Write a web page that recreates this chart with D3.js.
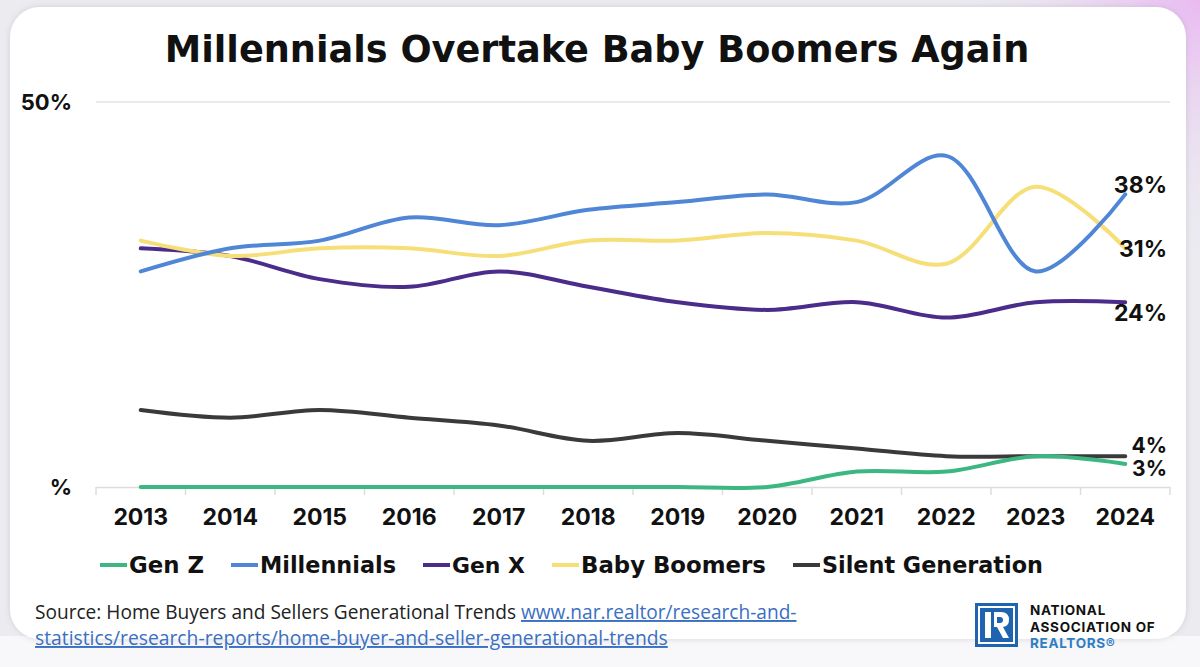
<!DOCTYPE html>
<html>
<head>
<meta charset="utf-8">
<script src="https://cdn.jsdelivr.net/npm/d3@7"></script>
<style>
  html, body { margin: 0; padding: 0; background: #ebebf0; }
  svg { display: block; }
</style>
</head>
<body>
<div id="chart"></div>
<script>
'use strict'

// Data (percent of buyers)
const years = ['2013', '2014', '2015', '2016', '2017', '2018', '2019', '2020', '2021', '2022', '2023', '2024']
const genZ = [0, 0, 0, 0, 0, 0, 0, 0, 2, 2, 4, 3]
const millennials = [28, 31, 32, 35, 34, 36, 37, 38, 37, 43, 28, 38]
const genX = [31, 30, 27, 26, 28, 26, 24, 23, 24, 22, 24, 24]
const boomers = [32, 30, 31, 31, 30, 32, 32, 33, 32, 29, 39, 31]
const silent = [10, 9, 10, 9, 8, 6, 7, 6, 5, 4, 4, 4]
const seriesNames = ['Gen Z', 'Millennials', 'Gen X', 'Baby Boomers', 'Silent Generation']
const yTickLabels = ['%', '50%']

// scale a text's font size so it spans the given width
function fitWidth(sel, target) {
  const w = sel.node().getComputedTextLength()
  const fs = parseFloat(sel.attr('font-size'))
  sel.attr('font-size', (fs * target) / w)
}

function draw() {
  const colors = {
    'Gen Z': '#3cb782',
    'Millennials': '#4f86d6',
    'Gen X': '#4b2c8a',
    'Baby Boomers': '#f6df78',
    'Silent Generation': '#3a3a3c',
  }
  const values = {
    'Gen Z': genZ,
    'Millennials': millennials,
    'Gen X': genX,
    'Baby Boomers': boomers,
    'Silent Generation': silent,
  }
  // draw order (back to front)
  const order = ['Silent Generation', 'Gen Z', 'Gen X', 'Baby Boomers', 'Millennials']

  const dimensions = {
    width: 1200,
    height: 667,
    plot: { left: 96, right: 1170, top: 102, bottom: 487 },
  }

  const svg = d3
    .select('#chart')
    .append('svg')
    .attr('width', dimensions.width)
    .attr('height', dimensions.height)

  const defs = svg.append('defs')
  const glow = defs
    .append('radialGradient')
    .attr('id', 'glow')
    .attr('cx', 1)
    .attr('cy', 0)
    .attr('r', 0.9)
  glow.append('stop').attr('offset', '0%').attr('stop-color', '#e9b9f2')
  glow.append('stop').attr('offset', '100%').attr('stop-color', '#ebebf0').attr('stop-opacity', 0)

  const shadow = defs.append('filter').attr('id', 'shadow').attr('x', -0.05).attr('y', -0.05).attr('width', 1.1).attr('height', 1.1)
  shadow.append('feDropShadow').attr('dx', 0).attr('dy', 0).attr('stdDeviation', 3).attr('flood-color', '#9a9aa8').attr('flood-opacity', 0.35)

  // Background + card
  svg.append('rect').attr('width', 1200).attr('height', 667).attr('fill', '#ebebf0')
  svg.append('rect').attr('x', 900).attr('y', 0).attr('width', 300).attr('height', 300).attr('fill', 'url(#glow)')
  svg.append('rect').attr('x', 0).attr('y', 636).attr('width', 1200).attr('height', 31).attr('fill', '#f8f8fa')
  svg
    .append('rect')
    .attr('x', 10)
    .attr('y', 7)
    .attr('width', 1176)
    .attr('height', 632)
    .attr('rx', 30)
    .attr('fill', '#ffffff')
    .attr('filter', 'url(#shadow)')

  const boldFont = "'DejaVu Sans', Inter, sans-serif"
  const tickFont = "Inter, 'DejaVu Sans', sans-serif"

  // Title
  const title = svg
    .append('text')
    .attr('x', 597)
    .attr('y', 62)
    .attr('text-anchor', 'middle')
    .attr('font-family', boldFont)
    .attr('font-weight', 700)
    .attr('font-size', 34)
    .attr('fill', '#111')
    .text('Millennials Overtake Baby Boomers Again')
  fitWidth(title, 865)

  // Scales
  const xBand = d3
    .scaleBand()
    .domain(years)
    .range([dimensions.plot.left, dimensions.plot.right])
  const xScale = (year) => xBand(year) + xBand.bandwidth() / 2

  const yScale = d3
    .scaleLinear()
    .domain([0, 50])
    .range([dimensions.plot.bottom, dimensions.plot.top])

  // Gridline at 50%
  svg
    .append('line')
    .attr('x1', dimensions.plot.left)
    .attr('x2', dimensions.plot.right)
    .attr('y1', yScale(50))
    .attr('y2', yScale(50))
    .attr('stroke', '#e3e3e3')
    .attr('stroke-width', 1.5)

  // X axis
  const xAxis = d3.axisBottom(xBand).tickSize(0).tickPadding(22)
  const xAxisGroup = svg
    .append('g')
    .attr('transform', `translate(0, ${yScale(0)})`)
    .call(xAxis)
  xAxisGroup.select('.domain').attr('stroke', '#dcdcdc').attr('stroke-width', 1.5)
  xAxisGroup
    .selectAll('.tick text')
    .attr('font-family', tickFont)
    .attr('font-weight', 700)
    .attr('font-size', 23)
    .attr('fill', '#111')
  xAxisGroup
    .selectAll('.boundary')
    .data(years.concat(['end']))
    .join('line')
    .attr('class', 'boundary')
    .attr('x1', (d, i) => (i < years.length ? xBand(d) : dimensions.plot.right))
    .attr('x2', (d, i) => (i < years.length ? xBand(d) : dimensions.plot.right))
    .attr('y1', 0)
    .attr('y2', 8)
    .attr('stroke', '#dcdcdc')
    .attr('stroke-width', 1.5)

  // Y labels
  svg
    .selectAll('.ylabel')
    .data([0, 50])
    .join('text')
    .attr('class', 'ylabel')
    .attr('x', 72)
    .attr('y', (d) => yScale(d) + 8)
    .attr('text-anchor', 'end')
    .attr('font-family', tickFont)
    .attr('font-weight', 700)
    .attr('font-size', 22)
    .attr('fill', '#111')
    .text((d, i) => yTickLabels[i])

  // Lines
  const line = d3
    .line()
    .x((d, i) => xScale(years[i]))
    .y((d) => yScale(d))
    .curve(d3.curveCatmullRom.alpha(0.5))

  svg
    .append('g')
    .selectAll('path')
    .data(order)
    .join('path')
    .attr('d', (name) => line(values[name]))
    .attr('fill', 'none')
    .attr('stroke', (name) => colors[name])
    .attr('stroke-width', 4)
    .attr('stroke-linecap', 'round')

  // End labels (vertical nudges so they don't collide)
  const endNudge = {
    'Millennials': -1,
    'Baby Boomers': 9,
    'Gen X': 19,
    'Silent Generation': -3,
    'Gen Z': 12,
  }
  const last = years.length - 1
  svg
    .selectAll('.endlabel')
    .data(['Millennials', 'Baby Boomers', 'Gen X', 'Silent Generation', 'Gen Z'])
    .join('text')
    .attr('class', 'endlabel')
    .attr('x', 1167)
    .attr('y', (name) => yScale(values[name][last]) + endNudge[name])
    .attr('text-anchor', 'end')
    .attr('font-family', tickFont)
    .attr('font-weight', 700)
    .attr('font-size', (name) => (values[name][last] < 10 ? 21 : 23))
    .attr('fill', '#111')
    .text((name) => values[name][last] + '%')

  // Legend (text widths as in the picture)
  const legendWidths = [75, 136, 73, 185, 221]
  const legend = svg.append('g').attr('transform', 'translate(100, 565)')
  let cursor = 0
  seriesNames.forEach((name, i) => {
    const item = legend.append('g').attr('transform', `translate(${cursor}, 0)`)
    item
      .append('line')
      .attr('x1', 0)
      .attr('x2', 27)
      .attr('y1', 0)
      .attr('y2', 0)
      .attr('stroke', colors[name])
      .attr('stroke-width', 4)
    const label = item
      .append('text')
      .attr('x', 29)
      .attr('y', 8)
      .attr('font-family', boldFont)
      .attr('font-weight', 700)
      .attr('font-size', 21)
      .attr('fill', '#111')
      .text(name)
    fitWidth(label, legendWidths[i])
    cursor += 29 + legendWidths[i] + 27
  })

  // Source
  const sourceFont = "'Open Sans', sans-serif"
  const source = svg
    .append('text')
    .attr('x', 35)
    .attr('y', 619)
    .attr('font-family', sourceFont)
    .attr('font-size', 18)
    .attr('fill', '#222')
  source.append('tspan').text('Source: Home Buyers and Sellers Generational Trends ')
  source
    .append('tspan')
    .attr('fill', '#3a6fc2')
    .attr('text-decoration', 'underline')
    .text('www.nar.realtor/research-and-')
  fitWidth(source, 762)
  const source2 = svg
    .append('text')
    .attr('x', 35)
    .attr('y', 645)
    .attr('font-family', sourceFont)
    .attr('font-size', 18)
    .attr('fill', '#3a6fc2')
    .attr('text-decoration', 'underline')
    .text('statistics/research-reports/home-buyer-and-seller-generational-trends')
  fitWidth(source2, 633)

  // NAR logo
  const logo = svg.append('g').attr('transform', 'translate(975, 603)')
  logo.append('rect').attr('width', 43).attr('height', 44).attr('fill', '#1f64b0')
  logo
    .append('rect')
    .attr('x', 4)
    .attr('y', 4)
    .attr('width', 35)
    .attr('height', 36)
    .attr('fill', 'none')
    .attr('stroke', '#fff')
    .attr('stroke-width', 2)
  logo
    .append('path')
    .attr('d', 'M10 9 H16 V35 H10 Z M19 9 H26 Q34 9 34 17 Q34 23 28 24 L34 35 H28 L22 24 H19 Z')
    .attr('fill', '#fff')
  logo
    .append('path')
    .attr('d', 'M22 14 H25 Q28 14 28 17 Q28 20 25 20 H22 Z')
    .attr('fill', '#1f64b0')
  const logoLines = [
    { text: 'NATIONAL', y: 12, fill: '#111' },
    { text: 'ASSOCIATION OF', y: 28.5, fill: '#111' },
    { text: 'REALTORS®', y: 45, fill: '#2f7dc4' },
  ]
  logo
    .selectAll('.logotext')
    .data(logoLines)
    .join('text')
    .attr('class', 'logotext')
    .attr('x', 55)
    .attr('y', (d) => d.y)
    .attr('font-family', tickFont)
    .attr('font-weight', 700)
    .attr('font-size', 13.5)
    .attr('letter-spacing', 0.7)
    .attr('fill', (d) => d.fill)
    .text((d) => d.text)
}

draw()
</script>
</body>
</html>
